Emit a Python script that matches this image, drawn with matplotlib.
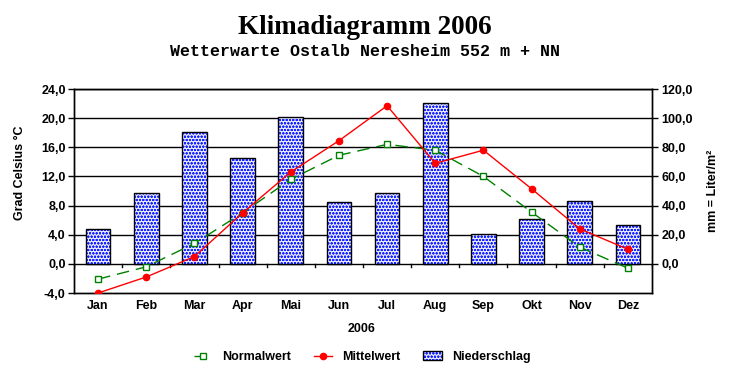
import matplotlib
matplotlib.use("Agg")
import matplotlib.pyplot as plt
import numpy as np

months = ["Jan", "Feb", "Mar", "Apr", "Mai", "Jun", "Jul", "Aug", "Sep", "Okt", "Nov", "Dez"]
normalwert = [-2.1, -0.4, 2.8, 7.0, 11.6, 14.9, 16.4, 15.6, 12.0, 7.1, 2.3, -0.6]
mittelwert = [-4.0, -1.8, 1.0, 7.0, 12.6, 16.9, 21.7, 13.8, 15.6, 10.3, 4.8, 2.0]
niederschlag = [23.8, 48.5, 90.3, 72.5, 100.6, 42.3, 48.5, 110.4, 20.6, 30.9, 43.2, 26.7]
temp_ticks = [-4, 0, 4, 8, 12, 16, 20, 24]
rain_ticks = [0, 20, 40, 60, 80, 100, 120]

plt.rcParams['hatch.linewidth'] = 0.6

W, H = 732, 380
fig = plt.figure(figsize=(W / 100, H / 100), dpi=100)
L, R, T, B = 74, 652, 89, 293
ax = fig.add_axes([L / W, 1 - B / H, (R - L) / W, (B - T) / H])
ax2 = ax.twinx()

x = np.arange(len(months))
fnt = dict(family="Liberation Sans", weight="bold", size=9)

# precipitation on right axis
ax2.set_ylim(-20, 120)
ax2.set_yticks(rain_ticks)
ax2.set_yticklabels([f"{v:.1f}".replace('.', ',') for v in rain_ticks], **fnt)
ax2.grid(True, axis='y', color='black', lw=1)
ax2.set_axisbelow(True)
bars = ax2.bar(x, niederschlag, width=0.51, facecolor='#e8eaff', edgecolor='black',
               hatch='ooooo', lw=1, label='Niederschlag', zorder=2)
for p in bars:
    p._hatch_color = (0.1, 0.15, 1.0, 1.0)
ax2.tick_params(axis='y', direction='out', length=4, width=1, pad=3, color='black')

# temperature on left axis
ax.set_zorder(ax2.get_zorder() + 1)
ax.patch.set_visible(False)
ax.set_xlim(-0.5, len(months) - 0.5)
ax.set_ylim(-4, 24)
ax.set_yticks(temp_ticks)
ax.set_yticklabels([f"{v:.1f}".replace('.', ',') for v in temp_ticks], **fnt)
ax.tick_params(axis='y', direction='out', length=4, width=1, pad=2)
ax.set_xticks(x)
ax.set_xticklabels(months, **fnt)
ax.tick_params(axis='x', length=0, pad=5)
for xt in np.arange(-0.5, len(months)):
    ax.plot([xt, xt], [0, -0.45], color='black', lw=1, zorder=1)

ax.plot(x, normalwert, color='#008000', lw=1, dashes=(9, 5), marker='s', ms=4,
        mfc='white', mec='#008000', mew=1, label='Normalwert', zorder=3)
ax.plot(x, mittelwert, color='#ff0000', lw=1, marker='o', ms=4.5,
        mfc='#ff0000', mec='#ff0000', label='Mittelwert', zorder=4)

for a in (ax, ax2):
    for s in a.spines.values():
        s.set_color('black')
        s.set_linewidth(1)

fig.text(365 / W, 1 - 28 / H, "Klimadiagramm 2006", ha='center', va='center',
         family="Liberation Serif", weight='bold', size=19.5)
fig.text(365 / W, 1 - 52 / H, "Wetterwarte Ostalb Neresheim 552 m + NN", ha='center',
         va='center', family="Liberation Mono", weight='bold', size=12)
fig.text(20 / W, 1 - 173 / H, "Grad Celsius °C", rotation=90, ha='center', va='center', **fnt)
fig.text(713 / W, 1 - 191 / H, "mm = Liter/m²", rotation=90, ha='center', va='center', **fnt)
fig.text(362 / W, 1 - 329 / H, "2006", ha='center', va='center', **fnt)

h1, l1 = ax.get_legend_handles_labels()
h2, l2 = ax2.get_legend_handles_labels()
leg = fig.legend(h1 + h2, l1 + l2, loc='center', bbox_to_anchor=(362 / W, 1 - 357 / H),
                 ncol=3, frameon=False, prop=dict(family="Liberation Sans", weight='bold', size=9),
                 handlelength=1.5, columnspacing=1.8, handletextpad=0.8)
for p in leg.get_patches():
    p._hatch_color = (0.1, 0.15, 1.0, 1.0)

fig.savefig("out.png", dpi=100, facecolor='white')
